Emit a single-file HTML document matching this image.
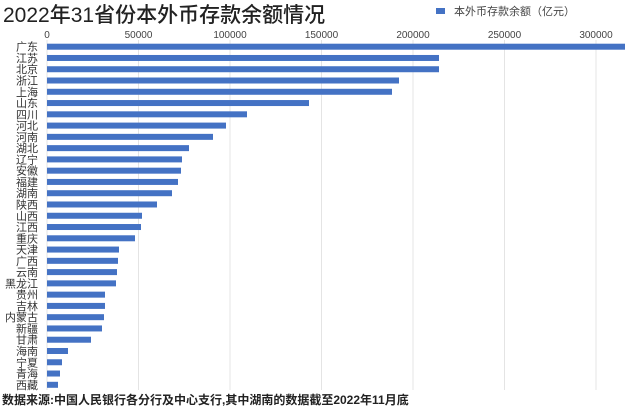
<!DOCTYPE html>
<html><head><meta charset="utf-8"><style>
html,body{margin:0;padding:0;background:#fff;}
svg{display:block;font-family:"Liberation Sans","Noto Sans CJK SC",sans-serif;}
</style></head><body>
<svg width="629" height="408" xmlns="http://www.w3.org/2000/svg">
<rect width="629" height="408" fill="#fff"/>
<text x="3" y="22" font-size="21" fill="#222" font-weight="500">2022年31省份本外币存款余额情况</text>
<rect x="436" y="8" width="9" height="6" fill="#4472c4"/>
<text x="454" y="15" font-size="11" fill="#444">本外币存款余额（亿元）</text>
<g stroke="#e4e4e4" stroke-width="1">
<line x1="47" y1="40" x2="47" y2="390"/>
<line x1="138.5" y1="40" x2="138.5" y2="390"/>
<line x1="230" y1="40" x2="230" y2="390"/>
<line x1="321.5" y1="40" x2="321.5" y2="390"/>
<line x1="413" y1="40" x2="413" y2="390"/>
<line x1="504.5" y1="40" x2="504.5" y2="390"/>
<line x1="596" y1="40" x2="596" y2="390"/>
</g>
<g font-size="10" fill="#444" text-anchor="middle">
<text x="47" y="38">0</text><text x="138.5" y="38">50000</text><text x="230" y="38">100000</text><text x="321.5" y="38">150000</text><text x="413" y="38">200000</text><text x="504.5" y="38">250000</text><text x="596" y="38">300000</text>
</g>
<g id="bars" fill="#4472c4"></g>
<g id="labels" font-size="11" fill="#333" text-anchor="end"></g>
<text x="2" y="404" font-size="12" font-weight="bold" fill="#222">数据来源:中国人民银行各分行及中心支行,其中湖南的数据截至2022年11月底</text>
<script>
var d=[["广东",625],["江苏",439],["北京",439],["浙江",399],["上海",392],["山东",309],["四川",247],["河北",226],["河南",213],["湖北",189],["辽宁",182],["安徽",181],["福建",178],["湖南",172],["陕西",157],["山西",142],["江西",141],["重庆",135],["天津",119],["广西",118],["云南",117],["黑龙江",116],["贵州",105],["吉林",105],["内蒙古",104],["新疆",102],["甘肃",91],["海南",68],["宁夏",62],["青海",60],["西藏",58]];
var ns="http://www.w3.org/2000/svg",b=document.getElementById("bars"),l=document.getElementById("labels");
d.forEach(function(r,i){var y=46.7+i*11.27;
var e=document.createElementNS(ns,"rect");e.setAttribute("x",47);e.setAttribute("y",y-3);e.setAttribute("width",r[1]-47);e.setAttribute("height",6);b.appendChild(e);
var t=document.createElementNS(ns,"text");t.setAttribute("x",38);t.setAttribute("y",y+4);t.textContent=r[0];l.appendChild(t);});
</script>
</svg>
</body></html>
